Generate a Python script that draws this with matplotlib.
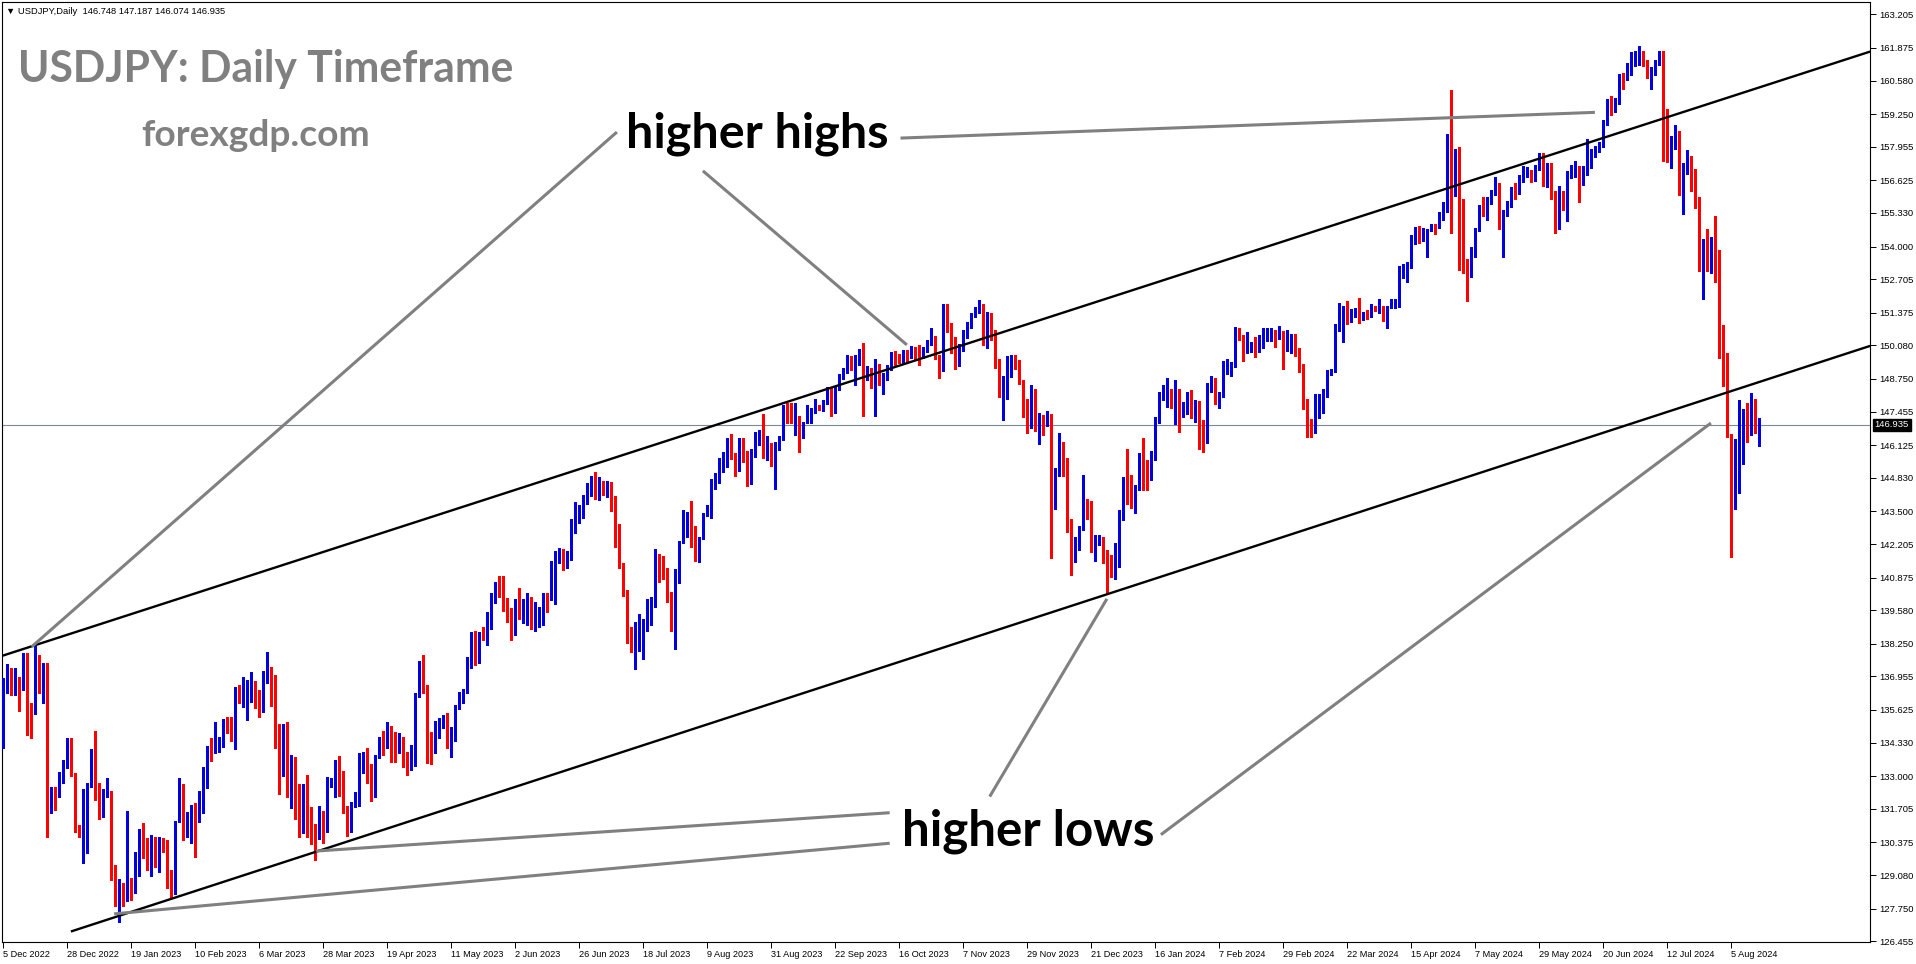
import numpy as np
import matplotlib.pyplot as plt

# USDJPY daily candles, one value per bar (bar 0 = 5 Dec 2022, last bar = 14 Aug 2024)
opens = [
    134.50, 136.65, 136.88, 136.63, 136.65, 136.42, 137.70, 135.54, 135.46, 137.82,
    135.91, 136.92, 131.72, 132.52, 132.38, 132.85, 133.51, 134.50, 133.05, 131.00,
    130.73, 131.04, 132.58, 133.44, 131.99, 131.92, 132.25, 132.41, 129.24, 127.85,
    128.48, 128.05, 128.92, 128.44, 129.65, 130.67, 130.20, 129.61, 130.27, 129.67,
    130.44, 130.07, 128.97, 128.68, 131.30, 132.69, 130.99, 131.33, 131.59, 131.19,
    132.38, 133.14, 134.17, 133.97, 134.19, 134.19, 135.03, 134.92, 134.70, 136.44,
    136.23, 136.21, 136.15, 136.77, 135.98, 135.94, 137.14, 137.34, 136.18, 134.56,
    133.11, 134.23, 133.37, 133.73, 131.83, 131.30, 132.53, 131.46, 130.84, 130.49,
    131.59, 130.80, 132.65, 132.65, 133.41, 132.41, 131.72, 131.30, 131.79, 132.15,
    133.61, 133.70, 133.15, 132.58, 133.80, 134.47, 134.13, 134.72, 134.26, 133.99,
    134.23, 133.77, 133.67, 133.93, 136.15, 137.50, 136.57, 134.70, 134.27, 134.72,
    135.00, 135.19, 134.37, 134.47, 135.75, 136.11, 136.35, 137.65, 138.73, 137.98,
    138.60, 138.56, 139.39, 140.03, 140.58, 140.47, 139.79, 139.35, 138.76, 139.95,
    139.56, 139.59, 140.09, 138.89, 139.29, 139.56, 140.22, 140.05, 140.22, 141.66,
    141.97, 141.41, 141.81, 143.05, 143.45, 143.45, 144.06, 144.24, 144.70, 144.21,
    144.65, 144.39, 144.64, 144.08, 142.10, 141.33, 140.38, 138.47, 138.00, 138.70,
    138.70, 138.80, 139.56, 140.05, 141.57, 141.51, 140.88, 140.25, 139.43, 141.18,
    142.27, 143.29, 143.32, 142.52, 141.68, 142.47, 143.39, 143.69, 144.67, 144.77,
    145.51, 145.27, 146.33, 145.83, 145.23, 146.17, 145.89, 144.74, 145.77, 146.37,
    146.49, 145.83, 146.17, 145.51, 145.99, 146.33, 147.72, 147.62, 147.19, 146.96,
    146.50, 147.05, 147.45, 147.45, 147.68, 147.52, 147.81, 148.35, 147.49, 148.38,
    148.86, 149.05, 149.63, 149.32, 149.37, 149.86, 149.02, 149.06, 148.50, 149.32,
    148.53, 148.74, 149.14, 149.79, 149.57, 149.53, 149.83, 149.80, 149.87, 149.86,
    149.71, 149.89, 150.22, 150.40, 149.63, 149.10, 151.68, 150.91, 150.36, 149.26,
    150.05, 150.42, 150.95, 151.28, 151.37, 151.68, 150.32, 151.35, 150.69, 149.56,
    148.28, 148.31, 149.46, 149.50, 149.37, 148.67, 147.48, 147.25, 148.15, 146.66,
    147.21, 147.12, 147.32, 144.18, 144.95, 146.19, 145.42, 142.90, 141.90, 142.15,
    142.78, 143.85, 143.55, 142.10, 142.40, 142.40, 141.80, 141.40, 141.00, 142.00,
    143.30, 144.65, 144.60, 144.25, 144.40, 145.73, 145.27, 144.87, 145.60, 147.05,
    148.02, 148.05, 148.18, 147.91, 148.27, 147.32, 147.52, 148.07, 147.25, 147.51,
    146.85, 146.37, 148.35, 148.57, 147.85, 148.04, 149.24, 149.24, 149.24, 150.73,
    150.49, 149.83, 150.03, 150.05, 149.83, 150.22, 150.46, 150.46, 150.60, 150.42,
    150.65, 149.87, 149.90, 150.45, 149.96, 149.30, 147.95, 146.95, 146.72, 147.61,
    147.69, 148.28, 148.90, 149.01, 150.78, 151.19, 151.61, 151.19, 151.37, 151.48,
    151.22, 151.33, 151.22, 151.61, 151.48, 151.61, 151.24, 151.57, 151.68, 151.78,
    153.15, 153.20, 153.27, 154.25, 154.65, 154.40, 154.63, 154.63, 154.82, 154.80,
    155.33, 155.60, 158.30, 156.35, 157.75, 155.55, 153.00, 152.95, 153.90, 154.70,
    155.55, 155.45, 155.75, 156.20, 156.40, 154.90, 155.40, 155.65, 156.25, 156.15,
    156.75, 156.95, 157.00, 156.85, 157.15, 157.60, 156.80, 157.25, 156.10, 154.80,
    156.10, 155.60, 156.75, 157.05, 157.15, 156.70, 157.05, 157.40, 157.70, 157.85,
    158.10, 158.90, 159.75, 159.65, 159.70, 160.80, 160.75, 160.85, 161.45, 161.45,
    161.70, 161.25, 160.75, 160.80, 161.30, 161.60, 158.85, 158.00, 157.98, 158.32,
    156.10, 157.28, 157.30, 156.95, 155.53, 153.76, 153.84, 153.48, 153.95, 152.70,
    149.90, 149.35, 146.44, 144.07, 144.23, 146.64, 147.21, 146.57, 147.14, 146.748,
]
highs = [
    136.90, 137.45, 137.30, 137.27, 136.92, 137.87, 137.87, 135.90, 138.16, 137.82,
    137.50, 137.47, 132.58, 132.58, 133.18, 133.64, 134.50, 134.50, 133.11, 131.05,
    132.50, 132.71, 134.07, 134.79, 132.71, 132.51, 132.91, 132.41, 129.48, 128.91,
    128.75, 131.62, 128.97, 130.00, 130.89, 131.15, 130.53, 130.67, 130.60, 130.60,
    130.54, 130.47, 129.28, 131.23, 132.91, 132.69, 131.59, 131.86, 131.92, 132.42,
    133.37, 134.19, 134.50, 135.16, 134.56, 135.25, 135.36, 135.36, 136.55, 136.61,
    136.92, 136.81, 137.12, 136.77, 136.41, 137.18, 137.91, 137.34, 137.01, 135.05,
    135.07, 135.16, 133.84, 133.77, 132.67, 132.67, 133.04, 131.79, 131.10, 131.82,
    131.63, 132.98, 132.94, 133.64, 133.80, 133.20, 131.83, 131.99, 132.38, 133.93,
    133.97, 134.10, 133.47, 133.84, 134.56, 134.79, 135.16, 134.99, 134.76, 134.72,
    134.54, 133.97, 134.23, 136.31, 137.56, 137.80, 136.61, 134.74, 135.19, 135.29,
    135.43, 135.52, 134.96, 135.82, 136.35, 136.45, 137.74, 138.73, 138.75, 138.71,
    138.90, 139.52, 140.25, 140.71, 140.94, 140.94, 140.05, 139.68, 140.01, 140.45,
    140.01, 140.25, 140.12, 139.92, 139.72, 140.28, 140.25, 141.53, 141.93, 142.03,
    142.01, 141.93, 143.18, 143.87, 143.74, 144.15, 144.61, 144.90, 145.05, 144.88,
    144.70, 144.70, 144.68, 144.11, 142.99, 141.44, 140.38, 138.93, 139.13, 139.43,
    139.23, 140.03, 140.12, 141.99, 141.80, 141.73, 141.24, 140.32, 141.20, 142.33,
    143.55, 143.49, 143.91, 142.92, 142.50, 143.45, 143.75, 144.77, 145.01, 145.60,
    145.86, 146.39, 146.57, 145.83, 146.39, 146.39, 145.89, 145.96, 146.66, 146.72,
    147.36, 146.49, 146.20, 146.26, 146.49, 147.72, 147.81, 147.81, 147.78, 147.28,
    147.05, 147.72, 147.58, 147.94, 147.72, 147.91, 148.45, 148.45, 148.45, 148.96,
    149.19, 149.71, 149.65, 149.70, 149.95, 150.16, 149.25, 149.17, 149.53, 149.36,
    149.00, 149.30, 149.83, 149.84, 149.75, 149.90, 149.91, 150.04, 150.02, 150.08,
    150.00, 150.29, 150.78, 150.45, 149.68, 151.72, 151.74, 150.95, 150.42, 150.12,
    150.69, 151.02, 151.35, 151.61, 151.88, 151.74, 151.41, 151.35, 150.71, 149.56,
    148.86, 149.67, 149.70, 149.70, 149.50, 148.71, 147.94, 148.51, 148.37, 147.41,
    147.32, 147.48, 147.35, 145.20, 146.59, 146.23, 145.60, 143.20, 142.50, 142.90,
    144.95, 143.98, 143.90, 142.55, 142.55, 142.50, 141.95, 141.75, 142.25, 143.55,
    144.85, 145.98, 144.94, 144.55, 145.80, 146.40, 145.55, 145.90, 147.25, 148.25,
    148.50, 148.77, 148.35, 148.70, 148.35, 147.85, 148.25, 148.31, 147.91, 147.87,
    147.12, 148.57, 148.86, 148.77, 148.24, 149.46, 149.56, 149.43, 150.82, 150.78,
    150.49, 150.62, 150.22, 150.40, 150.49, 150.75, 150.75, 150.78, 150.69, 150.85,
    150.65, 150.69, 150.52, 150.53, 149.99, 149.33, 147.95, 147.15, 148.15, 148.14,
    148.34, 149.10, 149.14, 150.91, 151.78, 151.64, 151.84, 151.52, 151.55, 151.94,
    151.39, 151.48, 151.74, 151.63, 151.90, 151.63, 151.63, 151.92, 151.90, 153.24,
    153.32, 153.40, 154.45, 154.78, 154.80, 154.72, 154.70, 154.90, 154.90, 155.35,
    155.75, 158.45, 160.20, 157.85, 157.95, 155.90, 153.50, 154.00, 154.75, 155.65,
    155.95, 155.95, 156.25, 156.75, 156.50, 155.45, 155.80, 156.35, 156.50, 156.85,
    157.20, 157.15, 157.05, 157.25, 157.70, 157.70, 157.30, 157.30, 156.20, 156.40,
    156.20, 157.00, 157.25, 157.40, 157.20, 157.20, 158.25, 157.85, 158.00, 158.15,
    159.00, 159.85, 159.95, 159.90, 160.85, 160.90, 161.28, 161.70, 161.75, 161.95,
    161.75, 161.40, 161.10, 161.40, 161.75, 161.75, 159.45, 158.37, 158.82, 158.58,
    157.33, 157.84, 157.59, 157.09, 155.96, 154.30, 154.71, 154.36, 155.22, 153.86,
    150.89, 149.79, 146.57, 146.37, 147.92, 147.56, 147.79, 148.21, 147.96, 147.187,
]
lows = [
    134.13, 136.31, 136.20, 136.20, 135.60, 136.42, 134.63, 134.53, 135.46, 136.31,
    135.91, 130.60, 131.52, 131.66, 132.19, 132.72, 133.31, 133.02, 130.80, 130.60,
    129.54, 129.94, 132.58, 132.05, 131.30, 131.40, 132.19, 128.88, 127.85, 127.23,
    127.85, 128.05, 128.10, 128.38, 129.04, 129.74, 129.28, 129.04, 129.41, 129.21,
    130.00, 128.55, 128.15, 128.33, 131.20, 130.47, 130.60, 130.36, 129.81, 131.19,
    131.52, 132.52, 133.60, 133.93, 133.97, 134.14, 134.70, 134.41, 134.06, 135.90,
    135.75, 135.22, 135.95, 135.71, 135.36, 135.56, 136.70, 135.78, 134.10, 132.28,
    133.00, 132.18, 131.72, 131.29, 130.57, 130.73, 130.57, 130.31, 129.67, 130.49,
    130.36, 130.80, 132.58, 132.19, 132.22, 131.52, 130.63, 130.80, 131.79, 131.82,
    133.11, 132.71, 132.03, 132.19, 133.73, 133.84, 134.10, 133.57, 133.57, 133.93,
    133.37, 133.04, 133.24, 133.40, 136.15, 136.31, 133.51, 133.48, 133.90, 134.50,
    134.90, 134.10, 133.75, 134.40, 135.65, 135.90, 136.30, 137.30, 137.41, 137.50,
    138.40, 138.20, 138.82, 139.86, 140.12, 139.55, 139.13, 138.40, 138.60, 139.23,
    139.09, 138.99, 138.84, 138.76, 138.93, 138.99, 139.52, 140.00, 139.83, 141.44,
    141.18, 141.27, 141.57, 142.66, 143.05, 143.25, 143.78, 144.11, 143.98, 143.95,
    144.14, 144.08, 143.53, 142.07, 141.24, 140.16, 138.29, 137.91, 137.25, 137.98,
    137.65, 138.76, 139.00, 139.72, 140.71, 140.81, 139.92, 138.76, 138.04, 140.67,
    142.23, 142.50, 142.07, 141.53, 141.51, 142.39, 143.30, 143.25, 144.38, 144.64,
    145.07, 145.27, 145.57, 144.90, 145.11, 145.47, 144.52, 144.58, 145.67, 146.13,
    145.63, 145.53, 145.30, 144.38, 145.95, 146.33, 146.99, 146.99, 146.53, 145.86,
    146.42, 147.02, 146.99, 147.40, 147.50, 147.48, 147.75, 147.29, 147.40, 148.33,
    148.74, 148.98, 149.10, 148.52, 149.30, 147.30, 148.70, 148.41, 147.28, 148.52,
    148.16, 148.72, 149.10, 149.30, 149.40, 149.33, 149.47, 149.60, 149.55, 149.32,
    149.57, 149.80, 150.10, 149.53, 148.80, 149.05, 150.60, 149.79, 149.13, 149.26,
    149.85, 150.36, 150.75, 151.22, 151.35, 150.09, 149.99, 150.29, 149.17, 148.04,
    147.12, 147.95, 148.84, 149.13, 148.55, 147.25, 146.62, 146.81, 146.70, 146.19,
    146.52, 146.89, 141.64, 143.60, 144.90, 144.90, 142.70, 140.97, 141.48, 141.95,
    142.76, 143.18, 141.90, 141.55, 142.15, 141.45, 140.25, 140.90, 140.80, 141.30,
    143.15, 143.80, 143.65, 143.45, 144.35, 144.35, 144.35, 144.75, 145.55, 147.00,
    147.90, 147.65, 147.60, 146.98, 146.66, 147.25, 147.35, 147.22, 147.05, 145.97,
    145.86, 146.22, 148.24, 147.75, 147.61, 148.02, 148.94, 148.86, 149.21, 150.29,
    149.46, 149.79, 149.83, 149.63, 149.83, 149.96, 150.25, 150.25, 150.03, 150.32,
    149.14, 149.87, 149.79, 149.66, 149.04, 147.56, 146.46, 146.46, 146.59, 147.22,
    147.41, 148.02, 148.90, 149.01, 150.66, 150.23, 150.93, 151.02, 151.22, 150.98,
    151.08, 151.12, 151.20, 151.45, 151.37, 151.06, 150.75, 151.55, 151.55, 151.60,
    152.75, 152.60, 153.15, 154.10, 154.15, 154.20, 153.58, 154.60, 154.50, 154.75,
    155.05, 155.35, 154.55, 156.00, 153.05, 152.95, 151.86, 152.80, 153.60, 154.60,
    155.20, 155.05, 155.70, 156.05, 154.70, 153.60, 155.20, 155.55, 155.90, 156.10,
    156.55, 156.75, 156.55, 156.60, 157.05, 156.40, 156.35, 155.90, 154.55, 154.70,
    155.45, 155.00, 156.70, 156.75, 155.75, 156.45, 156.85, 157.10, 157.55, 157.75,
    157.95, 158.80, 159.20, 159.35, 159.65, 160.25, 160.60, 160.80, 161.15, 161.20,
    161.15, 160.70, 160.25, 160.80, 161.20, 157.40, 157.35, 157.10, 157.87, 156.03,
    155.29, 156.88, 156.20, 155.51, 153.03, 151.90, 153.03, 152.96, 152.59, 149.59,
    148.48, 146.44, 141.69, 143.61, 144.23, 145.38, 146.26, 146.54, 146.61, 146.074,
]
closes = [
    136.88, 137.10, 136.59, 136.71, 136.59, 137.70, 135.60, 135.46, 137.82, 136.73,
    137.17, 131.75, 132.48, 132.38, 132.85, 133.51, 134.50, 133.02, 131.13, 130.60,
    131.00, 132.71, 133.44, 132.09, 131.90, 132.32, 132.52, 129.34, 127.85, 128.58,
    128.18, 128.97, 128.44, 129.65, 130.71, 130.20, 129.61, 130.27, 129.78, 130.47,
    130.10, 128.97, 128.75, 131.23, 132.69, 131.06, 131.46, 131.55, 131.42, 132.42,
    133.14, 134.19, 133.97, 134.14, 134.33, 135.07, 134.93, 134.70, 136.48, 136.26,
    136.30, 136.27, 136.77, 135.82, 135.91, 137.18, 137.37, 136.15, 135.07, 133.24,
    134.23, 133.41, 133.80, 131.83, 131.30, 132.49, 131.50, 130.86, 130.71, 131.63,
    130.90, 132.89, 132.85, 132.85, 132.41, 131.70, 131.35, 131.82, 132.19, 133.64,
    133.73, 132.74, 132.58, 133.77, 134.52, 134.13, 134.76, 134.26, 134.13, 134.26,
    133.73, 133.67, 134.04, 136.31, 137.50, 136.57, 134.76, 134.30, 134.90, 135.16,
    135.32, 134.37, 134.96, 135.75, 136.15, 136.35, 137.74, 138.73, 137.76, 138.60,
    138.53, 139.48, 140.08, 140.62, 140.42, 139.76, 139.33, 138.76, 139.99, 139.56,
    139.68, 140.18, 138.93, 139.39, 139.63, 140.22, 140.05, 140.32, 141.90, 142.01,
    141.44, 141.90, 143.12, 143.71, 143.51, 144.06, 144.52, 144.77, 144.24, 144.68,
    144.44, 144.68, 144.08, 142.10, 141.31, 140.36, 138.49, 138.07, 138.82, 138.86,
    138.86, 139.30, 140.09, 141.84, 141.47, 140.91, 140.25, 139.43, 141.18, 142.30,
    143.36, 143.32, 142.50, 141.70, 142.50, 143.39, 143.73, 144.74, 144.94, 145.56,
    145.57, 146.37, 145.83, 145.34, 146.22, 145.86, 144.83, 145.86, 146.46, 146.53,
    145.86, 146.24, 145.51, 146.26, 146.49, 147.72, 147.65, 147.25, 147.72, 146.53,
    147.05, 147.49, 147.49, 147.82, 147.54, 147.87, 148.35, 147.54, 148.38, 148.86,
    149.05, 149.63, 149.32, 149.37, 149.86, 149.02, 149.06, 148.50, 149.32, 148.53,
    148.74, 149.14, 149.79, 149.57, 149.53, 149.83, 149.80, 149.87, 149.86, 149.71,
    149.89, 150.22, 150.40, 149.63, 149.10, 151.68, 150.95, 150.40, 149.30, 150.05,
    150.42, 150.98, 151.32, 151.48, 151.72, 150.32, 151.37, 150.49, 149.54, 148.35,
    148.40, 149.54, 149.54, 149.39, 148.64, 147.41, 147.21, 148.22, 146.79, 147.21,
    147.12, 147.32, 144.18, 144.95, 146.19, 145.42, 142.90, 141.90, 142.15, 142.78,
    143.85, 143.55, 142.10, 142.40, 142.42, 141.80, 141.40, 141.00, 142.00, 143.30,
    144.60, 144.55, 144.25, 144.40, 145.75, 145.27, 144.87, 145.80, 147.25, 148.14,
    148.15, 148.15, 148.11, 148.35, 147.52, 147.65, 148.11, 147.45, 147.58, 146.92,
    146.37, 148.40, 148.67, 147.91, 148.15, 149.30, 149.26, 149.34, 150.75, 150.53,
    149.90, 150.16, 150.09, 149.93, 150.25, 150.53, 150.53, 150.69, 150.46, 150.69,
    149.93, 150.09, 150.49, 150.03, 149.34, 148.00, 147.05, 146.89, 147.63, 147.75,
    148.31, 149.02, 149.13, 150.85, 151.22, 151.61, 151.41, 151.41, 151.52, 151.24,
    151.35, 151.30, 151.64, 151.48, 151.70, 151.28, 151.61, 151.81, 151.77, 153.15,
    153.20, 153.27, 154.25, 154.65, 154.40, 154.63, 154.64, 154.82, 154.80, 155.33,
    155.60, 158.30, 156.35, 157.75, 155.55, 153.00, 152.95, 153.90, 154.70, 155.55,
    155.45, 155.75, 156.20, 156.40, 154.90, 155.40, 155.65, 156.25, 156.15, 156.75,
    156.95, 157.00, 156.85, 157.15, 157.60, 156.80, 157.25, 156.10, 154.80, 156.10,
    155.60, 156.75, 157.05, 157.15, 156.70, 157.05, 157.40, 157.70, 157.85, 158.10,
    158.90, 159.75, 159.65, 159.70, 160.80, 160.75, 160.85, 161.45, 161.45, 161.70,
    161.25, 160.75, 160.80, 161.30, 161.60, 158.85, 157.90, 158.08, 158.40, 156.13,
    157.33, 157.47, 156.99, 155.53, 153.84, 153.90, 153.72, 154.01, 152.63, 149.90,
    149.28, 146.44, 144.18, 144.35, 146.73, 147.28, 146.59, 147.21, 146.83, 146.935,
]

date_labels = ["5 Dec 2022", "28 Dec 2022", "19 Jan 2023", "10 Feb 2023", "6 Mar 2023",
               "28 Mar 2023", "19 Apr 2023", "11 May 2023", "2 Jun 2023", "26 Jun 2023",
               "18 Jul 2023", "9 Aug 2023", "31 Aug 2023", "22 Sep 2023", "16 Oct 2023",
               "7 Nov 2023", "29 Nov 2023", "21 Dec 2023", "16 Jan 2024", "7 Feb 2024",
               "29 Feb 2024", "22 Mar 2024", "15 Apr 2024", "7 May 2024", "29 May 2024",
               "20 Jun 2024", "12 Jul 2024", "5 Aug 2024"]
price_ticks = [163.205, 161.875, 160.580, 159.250, 157.955, 156.625, 155.330, 154.000,
               152.705, 151.375, 150.080, 148.750, 147.455, 146.125, 144.830, 143.500,
               142.205, 140.875, 139.580, 138.250, 136.955, 135.625, 134.330, 133.000,
               131.705, 130.375, 129.080, 127.750, 126.455]
last_price = 146.935
header = "\u25bc USDJPY,Daily  146.748 147.187 146.074 146.935"

# channel lines: (bar, price) end points
upper_channel = [(-0.3, 137.77), (466.7, 161.73)]
lower_channel = [(16.9, 126.84), (466.7, 150.06)]
# grey pointers from the labels to the touches
pointers = [
    [(153.4, 158.54), (7.1, 138.13)],
    [(174.9, 157.00), (225.9, 150.10)],
    [(224.3, 158.30), (397.9, 159.32)],
    [(221.6, 131.55), (78.2, 130.03)],
    [(221.6, 130.34), (27.7, 127.54)],
    [(246.6, 132.19), (275.9, 140.03)],
    [(289.4, 130.68), (426.9, 147.00)],
]

W, H = 1916, 964
BLUE = "#0000e0"
RED = "#ff0000"

fig = plt.figure(figsize=(W / 100, H / 100), dpi=100)
ax = fig.add_axes([2 / W, 22 / H, 1868 / W, 940 / H])
ax.set_xlim(-0.325, 466.675)
ax.set_ylim(126.424, 163.696)

o = np.array(opens)
hi = np.array(highs)
lo = np.array(lows)
c = np.array(closes)
x = np.arange(len(c))
col = np.where(c >= o, BLUE, RED)

ax.vlines(x, lo, hi, colors=col, linewidth=0.75, antialiased=False, zorder=3)
body = np.maximum(np.abs(c - o), 0.045)
ax.bar(x, body, bottom=np.minimum(o, c), width=0.8, color=col, linewidth=0,
       antialiased=False, zorder=4)

ax.axhline(last_price, color="#7a8a99", linewidth=0.8, zorder=2)

for (x0, y0), (x1, y1) in [upper_channel, lower_channel]:
    ax.plot([x0, x1], [y0, y1], color="black", linewidth=1.7, zorder=5,
            solid_capstyle="butt")
for (x0, y0), (x1, y1) in pointers:
    ax.plot([x0, x1], [y0, y1], color="#808080", linewidth=2.2, zorder=6,
            solid_capstyle="butt")

# axes styling, MT4-like
for s in ax.spines.values():
    s.set_linewidth(0.8)
    s.set_color("black")
ax.yaxis.tick_right()
ax.set_yticks(price_ticks)
ax.set_yticklabels([f"{v:.3f}" for v in price_ticks], family="Liberation Sans")
ax.tick_params(axis="y", direction="out", length=4, width=0.7, pad=3, labelsize=6.8)
ax.set_xticks(np.arange(len(date_labels)) * 16)
ax.set_xticklabels(date_labels, family="Liberation Sans")
for lab in ax.get_xticklabels():
    lab.set_horizontalalignment("left")
ax.tick_params(axis="x", direction="out", length=4, width=0.7, pad=2, labelsize=6.6)

ax.text(1.0025, last_price, f"{last_price:.3f}", transform=ax.get_yaxis_transform(),
        ha="left", va="center", fontsize=6.8, color="white", family="Liberation Sans",
        bbox=dict(boxstyle="square,pad=0.18", fc="black", ec="black"), zorder=10,
        clip_on=False)


def px(xp, yp):
    return xp / W, 1 - yp / H


def fit(t, width_px):
    fig.canvas.draw()
    bb = t.get_window_extent()
    t.set_fontsize(t.get_fontsize() * width_px / bb.width)


fonts = ["Lato", "DejaVu Sans"]
t0 = fig.text(*px(6, 11), header, fontsize=7.5, family=["Liberation Sans", "DejaVu Sans"],
              va="center", ha="left")
t1 = fig.text(*px(18, 82), "USDJPY: Daily Timeframe", fontsize=33, fontweight="bold",
              color="#808080", family=fonts, va="baseline", ha="left")
t2 = fig.text(*px(141, 146), "forexgdp.com", fontsize=25, fontweight="bold",
              color="#808080", family=fonts, va="baseline", ha="left")
t3 = fig.text(*px(626, 148), "higher highs", fontsize=34, fontweight="bold",
              color="black", family=fonts, va="baseline", ha="left")
t4 = fig.text(*px(902, 845), "higher lows", fontsize=34, fontweight="bold",
              color="black", family=fonts, va="baseline", ha="left")
fit(t0, 220)
fit(t1, 496)
fit(t2, 229)
fit(t3, 262)
fit(t4, 253)

fig.savefig("out.png", dpi=100, facecolor="white")
